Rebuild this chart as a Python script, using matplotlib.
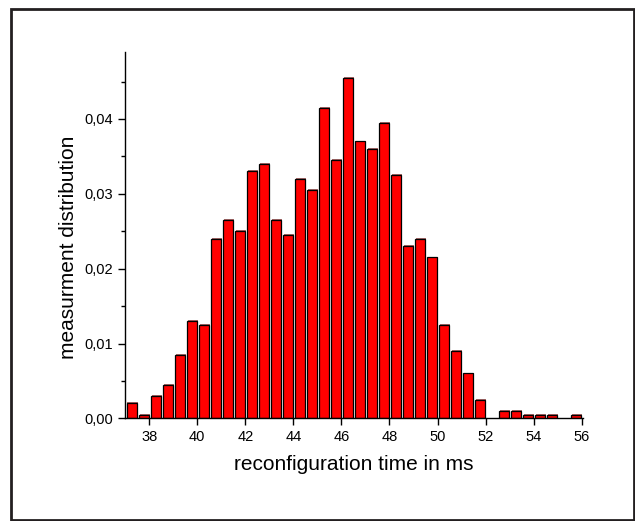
import numpy as np
import matplotlib
matplotlib.use("Agg")
import matplotlib.pyplot as plt
from matplotlib.patches import Rectangle
from matplotlib.ticker import FuncFormatter, MultipleLocator

plt.rcParams['font.family'] = ['Liberation Sans', 'DejaVu Sans']

# bin left edges (0.5 ms wide) and measured fractions
bin_left = [37.0, 37.5, 38.0, 38.5, 39.0, 39.5, 40.0, 40.5, 41.0, 41.5,
            42.0, 42.5, 43.0, 43.5, 44.0, 44.5, 45.0, 45.5, 46.0, 46.5,
            47.0, 47.5, 48.0, 48.5, 49.0, 49.5, 50.0, 50.5, 51.0, 51.5,
            52.0, 52.5, 53.0, 53.5, 54.0, 54.5, 55.0, 55.5]
dist = [0.0020, 0.0005, 0.0030, 0.0045, 0.0085, 0.0130, 0.0125, 0.0240, 0.0265, 0.0250,
        0.0330, 0.0340, 0.0265, 0.0245, 0.0320, 0.0305, 0.0415, 0.0345, 0.0455, 0.0370,
        0.0360, 0.0395, 0.0325, 0.0230, 0.0240, 0.0215, 0.0125, 0.0090, 0.0060, 0.0025,
        0.0, 0.0010, 0.0010, 0.0005, 0.0005, 0.0005, 0.0, 0.0005]
bin_width = 0.5
bar_width = 0.42
x_ticks = [38, 40, 42, 44, 46, 48, 50, 52, 54, 56]

fig = plt.figure(figsize=(6.35, 5.21), dpi=100)
ax = fig.add_axes([0.197, 0.197, 0.721, 0.704])

# outer frame around the whole picture
fig.patches.append(Rectangle((11 / 635, 1.5 / 521), 622.5 / 635, 510.5 / 521,
                             transform=fig.transFigure, fill=False,
                             edgecolor='#231f20', linewidth=2.0))

centers = np.array(bin_left) + bin_width / 2 + 0.02
h = np.array(dist)
mask = h > 0
# soft shadow behind each bar
ax.bar(centers[mask] + 0.04, h[mask], width=bar_width,
       bottom=0.00012, color='#a86a6a', edgecolor='none', zorder=1)
ax.bar(centers[mask], h[mask], width=bar_width,
       color='#ff0000', edgecolor='black', linewidth=0.9, zorder=2)

ax.set_xlim(37.0, 56.05)
ax.set_ylim(0, 0.049)
ax.set_xticks(x_ticks)
ax.yaxis.set_major_locator(MultipleLocator(0.01))
ax.yaxis.set_minor_locator(MultipleLocator(0.005))
ax.yaxis.set_major_formatter(FuncFormatter(lambda v, p: f"{v:.2f}".replace('.', ',')))

for side in ['top', 'right']:
    ax.spines[side].set_visible(False)
for side in ['left', 'bottom']:
    ax.spines[side].set_linewidth(1.0)
    ax.spines[side].set_zorder(3)

ax.tick_params(axis='both', which='major', direction='out', length=5, width=1.0, labelsize=10.5)
ax.tick_params(axis='y', which='minor', direction='out', length=3, width=1.0)

ax.set_xlabel('reconfiguration time in ms', fontsize=15, labelpad=8)
ax.set_ylabel('measurment distribution', fontsize=15, labelpad=5)
ax.yaxis.label.set_y(0.465)

fig.savefig('out.png', dpi=100)
